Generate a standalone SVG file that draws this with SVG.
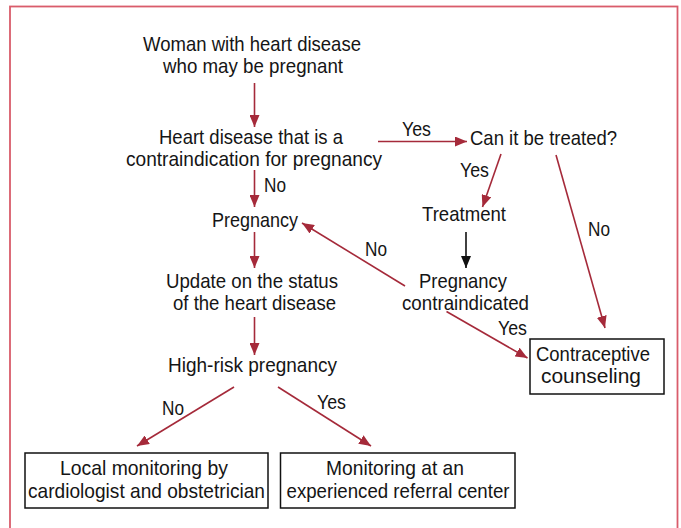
<svg xmlns="http://www.w3.org/2000/svg" width="681" height="528" viewBox="0 0 681 528">
<defs>
<style>
text{font-family:"Liberation Sans",Arial,sans-serif;font-size:21px;fill:#151515;text-anchor:middle}
.lbl{text-anchor:start}
.c{stroke:#a52a3a;stroke-width:1.6;fill:none}
.k{stroke:#111;stroke-width:1.6;fill:none}
.box{fill:#fff;stroke:#111;stroke-width:1.5}
</style>
<marker id="ar" viewBox="0 0 12 10" refX="12" refY="5" markerWidth="12" markerHeight="10" markerUnits="userSpaceOnUse" orient="auto"><path d="M0,0L12,5L0,10z" fill="#a52a3a"/></marker>
<marker id="ak" viewBox="0 0 12 10" refX="12" refY="5" markerWidth="12" markerHeight="10" markerUnits="userSpaceOnUse" orient="auto"><path d="M0,0L12,5L0,10z" fill="#111"/></marker>
</defs>
<rect x="10" y="6.5" width="667.5" height="530" fill="#fff" stroke="#d95c6b" stroke-width="1.8"/>
<g id="connectors">
<line class="c" x1="254.5" y1="83" x2="254.5" y2="127" marker-end="url(#ar)"/>
<line class="c" x1="378" y1="141.5" x2="467" y2="141.5" marker-end="url(#ar)"/>
<line class="c" x1="254.5" y1="170" x2="254.5" y2="207" marker-end="url(#ar)"/>
<line class="c" x1="501" y1="154" x2="482.5" y2="207" marker-end="url(#ar)"/>
<line class="k" x1="466" y1="232" x2="466" y2="268" marker-end="url(#ak)"/>
<line class="c" x1="405" y1="286" x2="302" y2="223" marker-end="url(#ar)"/>
<line class="c" x1="556" y1="155" x2="605" y2="328" marker-end="url(#ar)"/>
<line class="c" x1="446.5" y1="311.5" x2="527.5" y2="358" marker-end="url(#ar)"/>
<line class="c" x1="254.5" y1="232" x2="254.5" y2="268" marker-end="url(#ar)"/>
<line class="c" x1="254.5" y1="317" x2="254.5" y2="355" marker-end="url(#ar)"/>
<line class="c" x1="234" y1="387" x2="137" y2="446" marker-end="url(#ar)"/>
<line class="c" x1="278" y1="387" x2="371" y2="446" marker-end="url(#ar)"/>
<text class="lbl" x="402" y="136" textLength="29" lengthAdjust="spacingAndGlyphs">Yes</text>
<text class="lbl" x="460" y="177" textLength="29" lengthAdjust="spacingAndGlyphs">Yes</text>
<text class="lbl" x="264" y="192" textLength="22" lengthAdjust="spacingAndGlyphs">No</text>
<text class="lbl" x="588" y="236" textLength="22" lengthAdjust="spacingAndGlyphs">No</text>
<text class="lbl" x="365" y="256" textLength="22" lengthAdjust="spacingAndGlyphs">No</text>
<text class="lbl" x="498" y="335" textLength="29" lengthAdjust="spacingAndGlyphs">Yes</text>
<text class="lbl" x="162" y="415" textLength="22" lengthAdjust="spacingAndGlyphs">No</text>
<text class="lbl" x="317" y="409" textLength="29" lengthAdjust="spacingAndGlyphs">Yes</text>
</g>
<g id="start"><text x="252" y="51" textLength="218" lengthAdjust="spacingAndGlyphs">Woman with heart disease</text><text x="253" y="73" textLength="180" lengthAdjust="spacingAndGlyphs">who may be pregnant</text></g>
<g id="contra"><text x="251" y="144" textLength="184" lengthAdjust="spacingAndGlyphs">Heart disease that is a</text><text x="254" y="166" textLength="256" lengthAdjust="spacingAndGlyphs">contraindication for pregnancy</text></g>
<g id="treat-q"><text x="543.5" y="145" textLength="147" lengthAdjust="spacingAndGlyphs">Can it be treated?</text></g>
<g id="treatment"><text x="464" y="221" textLength="84" lengthAdjust="spacingAndGlyphs">Treatment</text></g>
<g id="pregnancy"><text x="255" y="227" textLength="86" lengthAdjust="spacingAndGlyphs">Pregnancy</text></g>
<g id="pc"><text x="463" y="288" textLength="88" lengthAdjust="spacingAndGlyphs">Pregnancy</text><text x="465.5" y="310" textLength="127" lengthAdjust="spacingAndGlyphs">contraindicated</text></g>
<g id="update"><text x="252" y="288" textLength="172" lengthAdjust="spacingAndGlyphs">Update on the status</text><text x="254.5" y="310" textLength="163" lengthAdjust="spacingAndGlyphs">of the heart disease</text></g>
<g id="highrisk"><text x="252.5" y="372" textLength="169" lengthAdjust="spacingAndGlyphs">High-risk pregnancy</text></g>
<g id="counsel"><rect class="box" x="530" y="339" width="134" height="55"/><text x="593" y="361" textLength="114" lengthAdjust="spacingAndGlyphs">Contraceptive</text><text x="591" y="383" textLength="100" lengthAdjust="spacingAndGlyphs">counseling</text></g>
<g id="local"><rect class="box" x="25" y="453" width="243" height="55"/><text x="144" y="475" textLength="168" lengthAdjust="spacingAndGlyphs">Local monitoring by</text><text x="146.5" y="498" textLength="237" lengthAdjust="spacingAndGlyphs">cardiologist and obstetrician</text></g>
<g id="referral"><rect class="box" x="280.5" y="453" width="234.5" height="55"/><text x="395" y="475" textLength="138" lengthAdjust="spacingAndGlyphs">Monitoring at an</text><text x="398" y="498" textLength="223" lengthAdjust="spacingAndGlyphs">experienced referral center</text></g>
</svg>
